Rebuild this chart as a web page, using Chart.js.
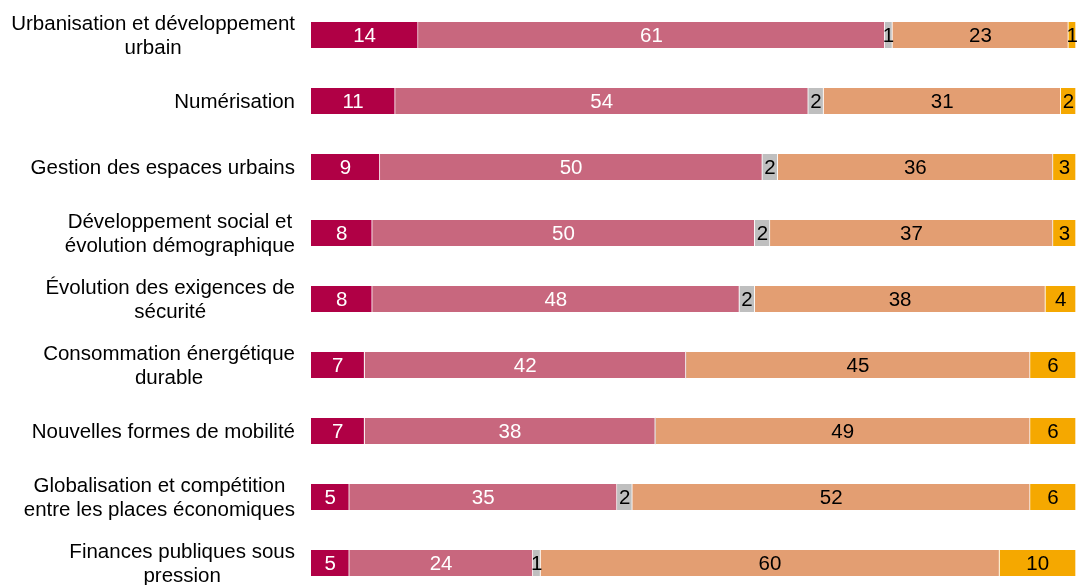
<!DOCTYPE html>
<html>
<head>
<meta charset="utf-8">
<script src="https://cdn.jsdelivr.net/npm/chart.js@4.4.1/dist/chart.umd.min.js"></script>
<style>
  html, body { margin: 0; padding: 0; background: #fff; overflow: hidden; }
  #wrap { position: relative; width: 1090px; height: 598px; }
</style>
</head>
<body>
<div id="wrap"><canvas id="c"></canvas></div>
<script>
const categories = [
  ["Urbanisation et développement", "urbain"],
  ["Numérisation"],
  ["Gestion des espaces urbains"],
  ["Développement social et", "évolution démographique"],
  ["Évolution des exigences de", "sécurité"],
  ["Consommation énergétique", "durable"],
  ["Nouvelles formes de mobilité"],
  ["Globalisation et compétition", "entre les places économiques"],
  ["Finances publiques sous", "pression"]
];
const seriesNames = ["Très important", "Plutôt important", "Ne sait pas", "Plutôt pas important", "Pas important"];
const s1 = [14, 11, 9, 8, 8, 7, 7, 5, 5];
const s2 = [61, 54, 50, 50, 48, 42, 38, 35, 24];
const s3 = [1, 2, 2, 2, 2, 0, 0, 2, 1];
const s4 = [23, 31, 36, 37, 38, 45, 49, 52, 60];
const s5 = [1, 2, 3, 3, 4, 6, 6, 6, 10];

const colors = ["#B00045", "#C8677E", "#BFBFBF", "#E39E72", "#F5A800"];
const textColors = ["#FFFFFF", "#FFFFFF", "#000000", "#000000", "#000000"];
const FONT = '20.5px "Liberation Sans", Arial, sans-serif';

const valueLabels = {
  id: 'valueLabels',
  afterDatasetsDraw(chart) {
    const ctx = chart.ctx;
    ctx.save();
    ctx.font = FONT;
    ctx.textAlign = 'center';
    ctx.textBaseline = 'middle';
    chart.data.datasets.forEach((ds, di) => {
      const meta = chart.getDatasetMeta(di);
      meta.data.forEach((el, i) => {
        const v = ds.data[i];
        if (!v) return;
        ctx.fillStyle = textColors[di];
        ctx.fillText(String(v), (el.x + el.base) / 2, el.y + 1);
      });
    });
    ctx.restore();
  }
};

const catLabels = {
  id: 'catLabels',
  afterDraw(chart) {
    const ctx = chart.ctx;
    const y = chart.scales.y;
    const right = 295;
    const lh = 24;
    ctx.save();
    ctx.font = FONT;
    ctx.fillStyle = '#000';
    ctx.textAlign = 'center';
    ctx.textBaseline = 'middle';
    categories.forEach((lines, i) => {
      const cy = y.getPixelForValue(i);
      const w = Math.max(...lines.map(l => ctx.measureText(l).width));
      const cx = right - w / 2;
      const y0 = cy - (lines.length - 1) * lh / 2;
      lines.forEach((l, k) => ctx.fillText(l, cx, y0 + k * lh + 1));
    });
    ctx.restore();
  }
};

const allSeries = [s1, s2, s3, s4, s5];
new Chart(document.getElementById('c'), {
  type: 'bar',
  data: {
    labels: categories.map(c => c.join(' ')),
    datasets: allSeries.map((d, i) => ({
      label: seriesNames[i],
      data: d,
      backgroundColor: colors[i],
      borderColor: 'rgba(255,255,255,0.7)',
      borderWidth: { top: 0, bottom: 0, left: 0, right: 1 },
      borderSkipped: false,
      barThickness: 26
    }))
  },
  options: {
    indexAxis: 'y',
    responsive: true,
    maintainAspectRatio: false,
    animation: false,
    layout: { padding: { left: 311, right: 14, top: 2, bottom: 2 } },
    scales: {
      x: { stacked: true, min: 0, max: 100, display: false },
      y: { stacked: true, display: false }
    },
    plugins: {
      legend: { display: false },
      tooltip: { enabled: false }
    }
  },
  plugins: [valueLabels, catLabels]
});
</script>
</body>
</html>
